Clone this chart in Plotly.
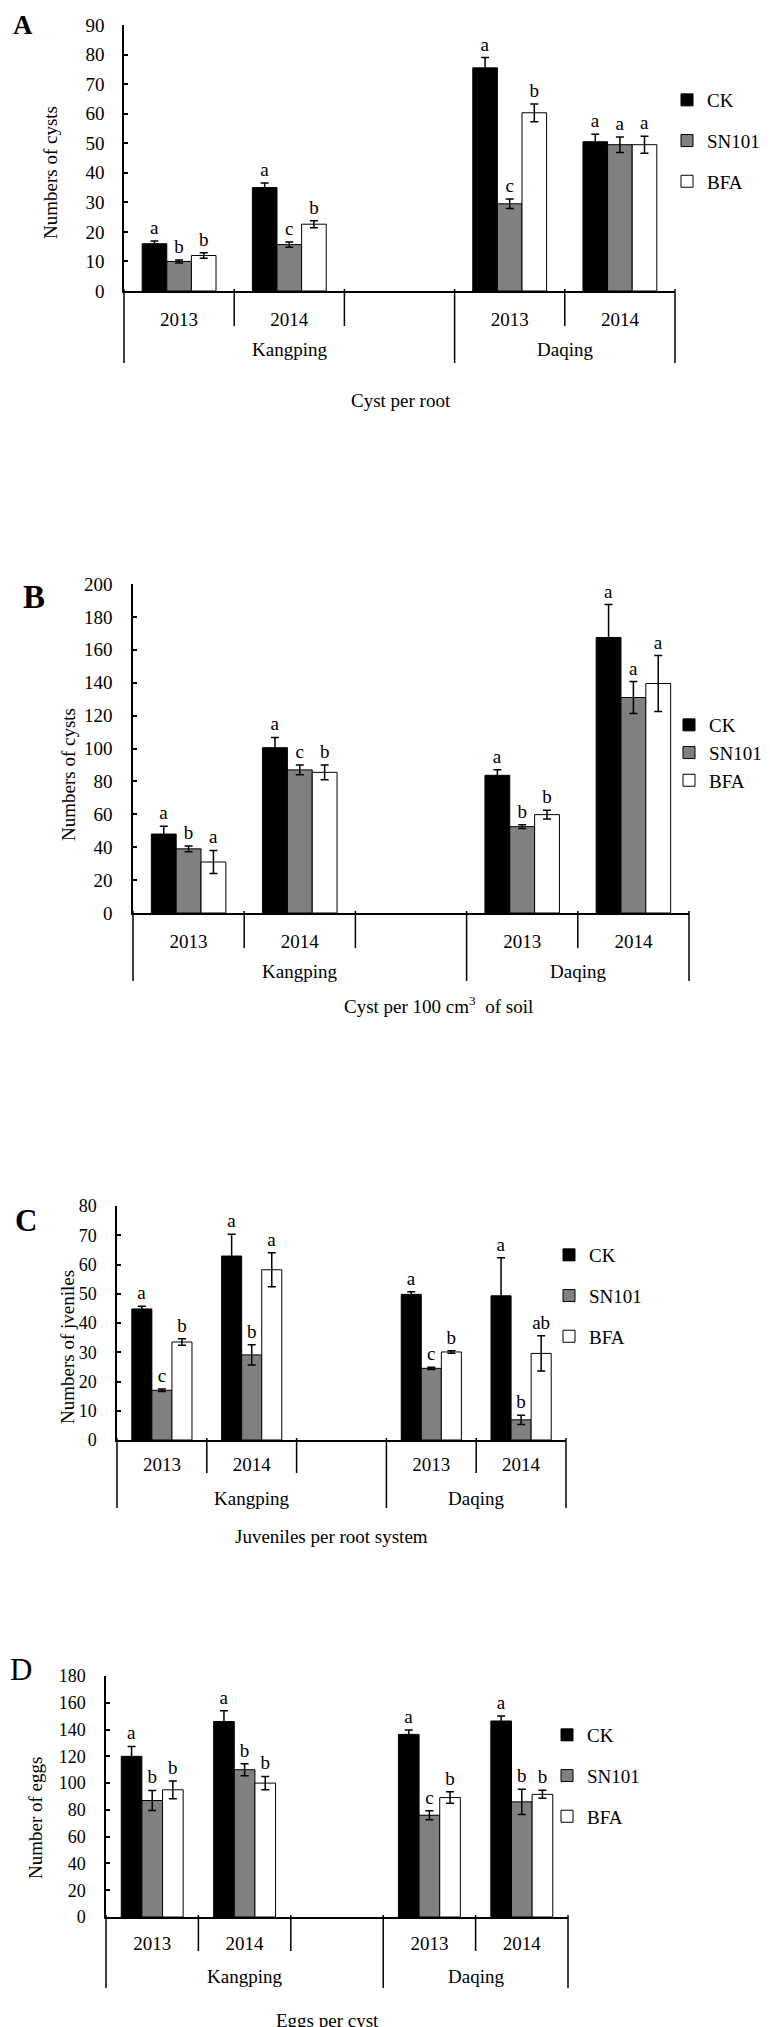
import plotly.graph_objects as go

W, H = 770, 2027
FONT = "Liberation Serif, Times New Roman, serif"

# ---------------- data ----------------
positions = [0, 1, 3, 4]          # slot 2 is the empty gap inside the Kangping block
years = ["2013", "2014", "2013", "2014"]
sites = ["Kangping", "Daqing"]
site_centers = [1, 3.5]
treatments = ["CK", "SN101", "BFA"]

# Panel A - Cyst per root
a_ck = [16.0, 35.0, 75.5, 50.5]
a_ck_err = [0.9, 1.5, 3.5, 2.5]
a_sn = [10.0, 15.7, 29.5, 49.5]
a_sn_err = [0.5, 0.9, 1.6, 2.6]
a_bfa = [12.0, 22.6, 60.3, 49.5]
a_bfa_err = [0.9, 1.2, 3.0, 2.9]
a_ck_let = ["a", "a", "a", "a"]
a_sn_let = ["b", "c", "c", "a"]
a_bfa_let = ["b", "b", "b", "a"]

# Panel B - Cyst per 100 cm3 of soil
b_ck = [48.0, 100.5, 83.7, 167.5]
b_ck_err = [4.7, 6.2, 3.4, 20.0]
b_sn = [39.0, 87.0, 52.5, 131.0]
b_sn_err = [1.8, 3.0, 1.2, 9.7]
b_bfa = [31.0, 85.5, 59.8, 139.5]
b_bfa_err = [7.0, 4.5, 2.6, 17.0]
b_ck_let = ["a", "a", "a", "a"]
b_sn_let = ["b", "c", "b", "a"]
b_bfa_let = ["a", "b", "b", "a"]

# Panel C - Juveniles per root system
c_ck = [44.8, 62.9, 49.8, 49.3]
c_ck_err = [0.9, 7.4, 0.9, 13.0]
c_sn = [17.0, 29.1, 24.5, 6.9]
c_sn_err = [0.4, 3.5, 0.4, 1.6]
c_bfa = [33.5, 58.2, 30.1, 29.6]
c_bfa_err = [1.1, 5.8, 0.4, 6.0]
c_ck_let = ["a", "a", "a", "a"]
c_sn_let = ["c", "b", "c", "b"]
c_bfa_let = ["b", "a", "b", "ab"]

# Panel D - Eggs per cyst
d_ck = [120.0, 146.0, 136.4, 146.4]
d_ck_err = [7.4, 8.0, 3.2, 3.7]
d_sn = [87.0, 110.0, 76.0, 86.0]
d_sn_err = [7.5, 4.5, 3.3, 9.5]
d_bfa = [95.0, 100.0, 89.2, 91.6]
d_bfa_err = [6.6, 5.0, 4.3, 3.0]
d_ck_let = ["a", "a", "a", "a"]
d_sn_let = ["b", "b", "c", "b"]
d_bfa_let = ["b", "b", "b", "b"]

# ---------------- styles / layout (pixels) ----------------
colors = {"CK": "#000000", "SN101": "#808080", "BFA": "#ffffff"}

panels = [
    dict(letter="A", bold=True, lsize=27, lxy=(15, 0), lanchor="top",
         x0=116, x1=667, top=17, zero=283, ymax=90, dtick=10,
         ytitle="Numbers of cysts", ytxy=(42, 165),
         ydiv=318, gdiv=355, glab=342, title="Cyst per root", txy=(393, 393),
         legx=659, legy=73, leggap=13, ystand=14, xstand=10, tsize=19,
         vals=[a_ck, a_sn, a_bfa], errs=[a_ck_err, a_sn_err, a_bfa_err],
         lets=[a_ck_let, a_sn_let, a_bfa_let]),
    dict(letter="B", bold=True, lsize=33, lxy=(26, 589), lanchor="middle",
         x0=125, x1=681, top=576, zero=905, ymax=200, dtick=20,
         ytitle="Numbers of cysts", ytxy=(60, 767),
         ydiv=940, gdiv=973, glab=963, title="Cyst per 100 cm<sup>3</sup>  of soil", txy=(430, 997),
         legx=661, legy=698, leggap=0, ystand=15, xstand=10, tsize=19,
         vals=[b_ck, b_sn, b_bfa], errs=[b_ck_err, b_sn_err, b_bfa_err],
         lets=[b_ck_let, b_sn_let, b_bfa_let]),
    dict(letter="C", bold=True, lsize=31, lxy=(18, 1212), lanchor="middle",
         x0=109, x1=558, top=1198, zero=1432, ymax=80, dtick=10,
         ytitle="Numbers of jveniles", ytxy=(59, 1339),
         ydiv=1465, gdiv=1500, glab=1490, title="Juveniles per root system", txy=(323, 1528),
         legx=541, legy=1228, leggap=13, ystand=15, xstand=6, tsize=18,
         vals=[c_ck, c_sn, c_bfa], errs=[c_ck_err, c_sn_err, c_bfa_err],
         lets=[c_ck_let, c_sn_let, c_bfa_let]),
    dict(letter="D", bold=False, lsize=31, lxy=(13, 1661), lanchor="middle",
         x0=98, x1=560, top=1668, zero=1909, ymax=180, dtick=20,
         ytitle="Number of eggs", ytxy=(27, 1810),
         ydiv=1943, gdiv=1980, glab=1968, title="Eggs per cyst", txy=(319, 2012),
         legx=539, legy=1708, leggap=13, ystand=15, xstand=8, tsize=18,
         vals=[d_ck, d_sn, d_bfa], errs=[d_ck_err, d_sn_err, d_bfa_err],
         lets=[d_ck_let, d_sn_let, d_bfa_let]),
]

fig = go.Figure()
annotations = []
shapes = []
layout = {}

for i, p in enumerate(panels, start=1):
    sfx = "" if i == 1 else str(i)
    xa, ya, leg = "x" + sfx, "y" + sfx, "legend" + sfx

    for t, v, e in zip(treatments, p["vals"], p["errs"]):
        fig.add_trace(go.Bar(
            x=positions, y=v, name=t, xaxis=xa, yaxis=ya,
            offsetgroup=t, legend=leg, legendgroup=p["letter"] + t,
            marker=dict(color=colors[t], line=dict(color="black", width=1)),
            error_y=dict(type="data", array=e, visible=True, color="black",
                         thickness=1.5, width=4),
        ))
    # significance letters: transparent bars ending at mean + SE, text outside
    for t, v, e, l in zip(treatments, p["vals"], p["errs"], p["lets"]):
        fig.add_trace(go.Bar(
            x=positions, y=[a + b for a, b in zip(v, e)], text=l,
            textposition="outside", cliponaxis=False, constraintext="none",
            textfont=dict(family=FONT, size=19, color="black"),
            xaxis=xa, yaxis=ya, offsetgroup=t, showlegend=False,
            hoverinfo="skip",
            marker=dict(color="rgba(0,0,0,0)", line=dict(width=0)),
        ))

    layout["xaxis" + sfx] = dict(
        domain=[p["x0"] / W, p["x1"] / W], range=[-0.5, 4.5], anchor=ya,
        tickmode="array", tickvals=positions, ticktext=years, ticks="",
        showline=True, linecolor="black", linewidth=1.5, showgrid=False,
        zeroline=False, ticklabelstandoff=p["xstand"],
        tickfont=dict(family=FONT, size=19, color="black"), fixedrange=True)
    layout["yaxis" + sfx] = dict(
        domain=[1 - p["zero"] / H, 1 - p["top"] / H], range=[0, p["ymax"]],
        anchor=xa, dtick=p["dtick"], tick0=0, ticks="inside", ticklen=4,
        tickwidth=1.5, tickcolor="black", showline=True, linecolor="black",
        linewidth=1.5, showgrid=False, zeroline=False,
        ticklabelstandoff=p["ystand"],
        tickfont=dict(family=FONT, size=p["tsize"], color="black"), fixedrange=True)
    layout[leg] = dict(
        x=p["legx"] / W, y=1 - p["legy"] / H, xanchor="left", yanchor="top",
        traceorder="grouped", tracegroupgap=p["leggap"], itemwidth=30,
        bgcolor="rgba(0,0,0,0)", font=dict(family=FONT, size=19, color="black"))

    # category divider lines under the x axis
    slot = (p["x1"] - p["x0"]) / 5.0
    for k in range(6):
        xp = (p["x0"] + k * slot) / W
        bottom = p["gdiv"] if k in (0, 3, 5) else p["ydiv"]
        shapes.append(dict(type="line", xref="paper", yref="paper",
                           x0=xp, x1=xp, y0=1 - (p["zero"] - 2) / H, y1=1 - bottom / H,
                           line=dict(color="black", width=1.5)))

    for s, c in zip(sites, site_centers):
        annotations.append(dict(text=s, xref=xa, yref="paper", x=c, y=1 - p["glab"] / H,
                                xanchor="center", yanchor="middle", showarrow=False,
                                font=dict(family=FONT, size=19, color="black")))
    annotations.append(dict(text=p["title"], xref="paper", yref="paper",
                            x=p["txy"][0] / W, y=1 - p["txy"][1] / H,
                            xanchor="center", yanchor="middle", showarrow=False,
                            font=dict(family=FONT, size=19, color="black")))
    annotations.append(dict(text=p["ytitle"], xref="paper", yref="paper",
                            x=p["ytxy"][0] / W, y=1 - p["ytxy"][1] / H, textangle=-90,
                            xanchor="center", yanchor="middle", showarrow=False,
                            font=dict(family=FONT, size=19, color="black")))
    annotations.append(dict(text=("<b>%s</b>" % p["letter"]) if p["bold"] else p["letter"],
                            xref="paper", yref="paper",
                            x=p["lxy"][0] / W, y=1 - p["lxy"][1] / H,
                            xanchor="center", yanchor=p["lanchor"], showarrow=False,
                            font=dict(family=FONT, size=p["lsize"], color="black")))

fig.update_layout(
    width=W, height=H, margin=dict(l=0, r=0, t=0, b=0, autoexpand=False),
    paper_bgcolor="white", plot_bgcolor="white",
    barmode="group", bargap=0.33, bargroupgap=0,
    annotations=annotations, shapes=shapes, showlegend=True,
    font=dict(family=FONT, color="black"),
    **layout,
)

fig.write_html("out.html")
